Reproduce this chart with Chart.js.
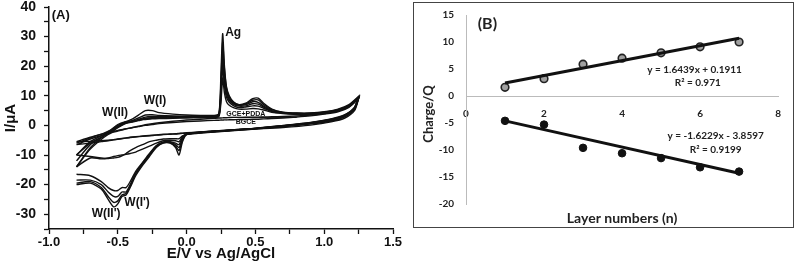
<!DOCTYPE html>
<html>
<head>
<meta charset="utf-8">
<script src="https://cdn.jsdelivr.net/npm/chart.js@4.4.1/dist/chart.umd.min.js"></script>
<style>
  body { margin: 0; background: #fff; }
  #wrap { position: relative; width: 796px; height: 270px; }
  #boxA { position: absolute; left: 0; top: 0; width: 412px; height: 270px; }
  #boxB { position: absolute; left: 413px; top: 2px; width: 379px; height: 224px; border: 1.5px solid #444; }
  canvas { display: block; }
</style>
</head>
<body>
<div id="wrap">
  <div id="boxA"><canvas id="chartA" width="412" height="270"></canvas></div>
  <div id="boxB"><canvas id="chartB" width="379" height="224"></canvas></div>
</div>
<script>
// ---- panel A : CVs, potential (V) on the forward and reverse sweep
const potFwd = [-0.8, -0.7, -0.6, -0.55, -0.5, -0.45, -0.4, -0.35, -0.3, -0.25, -0.2, -0.1, 0.0, 0.1, 0.2, 0.235, 0.25, 0.262, 0.275, 0.29, 0.31, 0.34, 0.38, 0.43, 0.48, 0.52, 0.56, 0.62, 0.7, 0.8, 0.9, 1.0, 1.1, 1.18, 1.25];
const potRev = [1.25, 1.22, 1.15, 1.05, 0.9, 0.7, 0.5, 0.3, 0.1, 0.0, -0.03, -0.055, -0.08, -0.12, -0.17, -0.22, -0.27, -0.32, -0.37, -0.41, -0.44, -0.47, -0.5, -0.53, -0.57, -0.62, -0.7, -0.8];

// currents (uA), one pair per layer
const fwd1 = [-6, -4.2, -2.6, -1.5, 0.3, 1.2, 1.5, 1.8, 2, 2.2, 2.3, 2.4, 2.5, 2.6, 2.7, 3, 8, 16, 11, 8, 6.8, 6, 5.5, 5.5, 5.7, 5.6, 5.2, 4.4, 4, 3.7, 3.7, 4.1, 4.9, 6.4, 9.2];
const rev1 = [9.2, 5.6, 3.1, 1.7, 0.6, -0.4, -1.2, -1.9, -2.6, -3.1, -3.5, -4.5, -4.5, -4.5, -4.6, -5, -5.5, -6.5, -7.5, -8.5, -9.5, -10.3, -10.8, -11, -11.2, -11, -10.5, -10];
const fwd2 = [-10, -6, -3.5, -2, -0.6, 0.6, 1.1, 1.6, 2.2, 2.4, 2.5, 2.6, 2.7, 2.8, 2.9, 3.3, 10, 20, 13.5, 9.5, 7.8, 6.7, 6, 6.2, 6.6, 6.5, 5.8, 4.6, 4.1, 3.8, 3.8, 4.2, 5, 6.5, 9.3];
const rev2 = [9.3, 5.7, 3.2, 1.8, 0.7, -0.3, -1.1, -1.8, -2.5, -3, -3.8, -5.5, -5.2, -5, -5.2, -6, -7, -8, -9, -9.5, -9.8, -10, -10.2, -10.5, -11, -11.3, -11, -14];
const fwd3 = [-10, -5.5, -3, -1.6, 0, 1, 1.2, 1.8, 2.4, 2.6, 2.7, 2.8, 2.9, 2.9, 3, 3.4, 11, 22, 15, 10.5, 8.5, 7.2, 6.5, 6.6, 7.3, 7.2, 6.2, 4.8, 4.2, 3.9, 3.9, 4.3, 5.1, 6.6, 9.4];
const rev3 = [9.4, 5.8, 3.3, 1.9, 0.8, -0.2, -1, -1.7, -2.4, -3, -4, -6.5, -6, -5.5, -5.6, -6.8, -9.5, -12.5, -15.5, -19, -21, -21, -22, -22, -21, -19, -17, -16.5];
const fwd4 = [-12, -6.5, -3.5, -2, -0.3, 0.8, 1.2, 2, 2.8, 3, 3, 3, 3, 3, 3.1, 3.6, 13, 25, 17, 11.5, 9, 7.5, 6.8, 7, 8, 7.8, 6.5, 5, 4.3, 4, 4, 4.4, 5.2, 6.7, 9.5];
const rev4 = [9.5, 5.9, 3.4, 2, 0.8, -0.2, -1, -1.7, -2.4, -3, -4.5, -7.5, -6.5, -5.7, -5.8, -7, -9.8, -12.8, -16, -20, -22.5, -22.5, -24, -24, -22.5, -20, -18.5, -18.5];
const fwd5 = [-14, -8, -4, -2.5, -0.8, 0.5, 1.5, 2.5, 3.5, 3.6, 3.4, 3.2, 3.1, 3.1, 3.2, 3.8, 15, 28, 19, 12.5, 9.5, 7.8, 7, 7.3, 8.5, 8.6, 7, 5.3, 4.4, 4.1, 4.1, 4.5, 5.3, 6.8, 9.6];
const rev5 = [9.6, 6, 3.5, 2.1, 0.9, -0.1, -1, -1.7, -2.4, -3, -5, -8.5, -7, -5.8, -5.8, -7.2, -10, -13, -16.5, -20.5, -23, -23.5, -25.5, -26, -24, -21, -19, -19.5];
const fwd6 = [-14, -7.5, -3.5, -2, -0.5, 1, 2, 3.5, 5, 5, 4.3, 3.8, 3.5, 3.4, 3.4, 4, 18, 31, 20, 13, 10, 8, 7, 7.5, 9, 9.2, 7.5, 5.5, 4.5, 4.2, 4.2, 4.6, 5.5, 7, 9.8];
const rev6 = [9.8, 6.1, 3.6, 2.2, 1, 0, -1, -1.6, -2.3, -3, -5.5, -10, -7.5, -6, -6, -7.5, -10.5, -13.5, -17, -21, -23.5, -24, -26.5, -27.5, -25, -21.5, -19.5, -20];
// bare GCE and GCE+PDDA
const pddaFwd = [-6.5, -4.6, -3.2, -2.5, -1.9, -1.3, -0.8, -0.3, 0.2, 0.6, 0.9, 1.4, 1.8, 2.1, 2.4, 2.5, 2.5, 2.55, 2.6, 2.6, 2.65, 2.7, 2.7, 2.75, 2.8, 2.8, 2.85, 2.9, 3.0, 3.2, 3.5, 4.0, 4.8, 6.3, 9.2];
const pddaRev = [9.2, 5.4, 2.9, 1.5, 0.5, -0.4, -1.0, -1.6, -2.2, -2.6, -2.7, -2.8, -2.9, -3.0, -3.1, -3.3, -3.5, -3.7, -3.9, -4.1, -4.3, -4.5, -4.7, -4.9, -5.2, -5.5, -6.0, -6.5];
const bareFwd = [-5.5, -4, -2.8, -2.2, -1.7, -1.2, -0.8, -0.4, 0, 0.3, 0.6, 1.0, 1.3, 1.5, 1.7, 1.75, 1.8, 1.8, 1.85, 1.85, 1.9, 1.9, 2.0, 2.0, 2.1, 2.1, 2.2, 2.3, 2.5, 2.8, 3.2, 3.8, 4.6, 6.1, 9.0];
const bareRev = [9.0, 5.0, 2.5, 1.2, 0.1, -0.7, -1.2, -1.7, -2.2, -2.5, -2.6, -2.7, -2.8, -2.9, -3.0, -3.2, -3.4, -3.6, -3.8, -4.0, -4.2, -4.4, -4.6, -4.8, -5.0, -5.2, -5.4, -5.5];

// ---- panel B : charge vs layer number
const layers = [1, 2, 3, 4, 5, 6, 7];
const chargeOx = [1.6, 3.2, 5.9, 7.0, 8.0, 9.1, 10.0];
const chargeRed = [-4.6, -5.3, -9.6, -10.6, -11.5, -13.2, -14.0];
// trend lines as drawn (ends)
const fitX = [1, 7];
const fitOx = [2.4, 10.7];
const fitRed = [-4.6, -14.3];

const cycles = [[fwd1, rev1], [fwd2, rev2], [fwd3, rev3], [fwd4, rev4], [fwd5, rev5], [fwd6, rev6], [pddaFwd, pddaRev], [bareFwd, bareRev]];

function loop(f, r) {
  return potFwd.map((e, i) => ({x: e, y: f[i]}))
    .concat(potRev.map((e, i) => ({x: e, y: r[i]})));
}

// text labels on panel A (data coords)
const notesA = [
  {t: '(A)', x: -0.98, y: 37.2, size: 13, al: 'left'},
  {t: 'Ag', x: 0.28, y: 31.4, size: 12, al: 'left'},
  {t: 'W(I)', x: -0.23, y: 8.4, size: 12, al: 'center'},
  {t: 'W(II)', x: -0.52, y: 4.2, size: 12, al: 'center'},
  {t: "W(I')", x: -0.36, y: -26, size: 12, al: 'center'},
  {t: "W(II')", x: -0.585, y: -29.7, size: 12, al: 'center'},
  {t: 'GCE+PDDA', x: 0.43, y: 3.9, size: 7, al: 'center'},
  {t: 'BGCE', x: 0.43, y: 1.1, size: 7, al: 'center'}
];

const fontA = 'Liberation Sans, Arial, sans-serif';
const fontB = 'Lato, Calibri, sans-serif';

const notesPluginA = {
  id: 'notesA',
  afterDraw(chart) {
    const ctx = chart.ctx, sx = chart.scales.x, sy = chart.scales.y, a = chart.chartArea;
    ctx.save();
    ctx.fillStyle = '#111';
    ctx.textBaseline = 'middle';
    notesA.forEach(n => {
      ctx.font = 'bold ' + n.size + 'px ' + fontA;
      ctx.textAlign = n.al;
      ctx.fillText(n.t, sx.getPixelForValue(n.x), sy.getPixelForValue(n.y));
    });
    // underline under GCE+PDDA
    ctx.strokeStyle = '#111';
    ctx.lineWidth = 1;
    ctx.beginPath();
    ctx.moveTo(sx.getPixelForValue(0.3), sy.getPixelForValue(2.7));
    ctx.lineTo(sx.getPixelForValue(0.8), sy.getPixelForValue(2.7));
    ctx.stroke();
    // axis titles
    ctx.font = 'bold 15px ' + fontA;
    ctx.textAlign = 'center';
    ctx.fillText('E/V vs Ag/AgCl', (a.left + a.right) / 2, 254);
    ctx.translate(11, (a.top + a.bottom) / 2);
    ctx.rotate(-Math.PI / 2);
    ctx.fillText('I/\u03BCA', 0, 0);
    ctx.restore();
  }
};

new Chart(document.getElementById('chartA'), {
  type: 'scatter',
  data: {
    datasets: cycles.map(c => ({
      data: loop(c[0], c[1]),
      showLine: true,
      borderColor: '#111',
      borderWidth: 1.4,
      pointRadius: 0,
      tension: 0.25
    }))
  },
  options: {
    responsive: false,
    animation: false,
    layout: {padding: {top: 7, right: 19, left: 0, bottom: 0}},
    plugins: {legend: {display: false}, tooltip: {enabled: false}},
    scales: {
      x: {
        type: 'linear', min: -1, max: 1.5,
        afterBuildTicks: s => { s.ticks = []; for (let v = -1; v <= 1.5001; v += 0.25) s.ticks.push({value: Math.round(v * 100) / 100}); },
        afterFit: s => { s.height = 41; },
        ticks: {
          color: '#111', padding: 1, maxRotation: 0, autoSkip: false,
          font: {family: fontA, size: 13, weight: 'bold'},
          callback: v => (Math.abs(v * 2 - Math.round(v * 2)) < 1e-6) ? v.toFixed(1) : ''
        },
        grid: {display: true, drawOnChartArea: false, tickLength: 5, tickColor: '#111', tickWidth: 1.3},
        border: {color: '#111', width: 1.5}
      },
      y: {
        min: -35, max: 40,
        afterBuildTicks: s => { s.ticks = []; for (let v = -35; v <= 40; v += 5) s.ticks.push({value: v}); },
        afterFit: s => { s.width = 49; s.paddingTop = 0; s.paddingBottom = 0; },
        ticks: {
          color: '#111', padding: 8, autoSkip: false,
          font: {family: fontA, size: 14, weight: 'bold'},
          callback: v => (v % 10 === 0) ? String(v) : ''
        },
        grid: {display: true, drawOnChartArea: false, tickLength: 5, tickColor: '#111', tickWidth: 1.3},
        border: {color: '#111', width: 1.5}
      }
    }
  },
  plugins: [notesPluginA]
});

// ---- panel B
const notesB = [
  {t: '(B)', x: 0.3, y: 13.3, size: 16, al: 'left'},
  {t: 'y = 1.6439x + 0.1911', x: 5.86, y: 4.8, size: 10, al: 'center'},
  {t: 'R\u00B2 = 0.971', x: 5.94, y: 2.5, size: 10, al: 'center'},
  {t: 'y = -1.6229x - 3.8597', x: 6.4, y: -7.4, size: 10, al: 'center'},
  {t: 'R\u00B2 = 0.9199', x: 6.4, y: -10, size: 10, al: 'center'}
];

const notesPluginB = {
  id: 'notesB',
  afterDraw(chart) {
    const ctx = chart.ctx, sx = chart.scales.x, sy = chart.scales.y, a = chart.chartArea;
    ctx.save();
    ctx.fillStyle = '#222';
    ctx.textBaseline = 'middle';
    notesB.forEach(n => {
      ctx.font = 'bold ' + n.size + 'px ' + fontB;
      ctx.textAlign = n.al;
      ctx.fillText(n.t, sx.getPixelForValue(n.x), sy.getPixelForValue(n.y));
    });
    ctx.font = 'bold 14px ' + fontB;
    ctx.textAlign = 'center';
    ctx.fillText('Layer numbers (n)', (a.left + a.right) / 2, 215);
    ctx.font = 'bold 13px ' + fontB;
    ctx.translate(15, 111);
    ctx.rotate(-Math.PI / 2);
    ctx.fillText('Charge/Q', 0, 0);
    ctx.restore();
  }
};

new Chart(document.getElementById('chartB'), {
  type: 'scatter',
  data: {
    datasets: [
      {data: fitX.map((x, i) => ({x: x, y: fitOx[i]})), showLine: true, borderColor: '#111', borderWidth: 3, pointRadius: 0},
      {data: fitX.map((x, i) => ({x: x, y: fitRed[i]})), showLine: true, borderColor: '#111', borderWidth: 3, pointRadius: 0},
      {data: layers.map((x, i) => ({x: x, y: chargeOx[i]})), pointRadius: 3.8, backgroundColor: '#a0a0a0', borderColor: '#222', borderWidth: 1.6},
      {data: layers.map((x, i) => ({x: x, y: chargeRed[i]})), pointRadius: 3.8, backgroundColor: '#111', borderColor: '#111', borderWidth: 1}
    ]
  },
  options: {
    responsive: false,
    animation: false,
    layout: {padding: {top: 12, right: 14, left: 0, bottom: 23}},
    plugins: {legend: {display: false}, tooltip: {enabled: false}},
    scales: {
      x: {
        type: 'linear', min: 0, max: 8, position: {y: 0},
        ticks: {stepSize: 2, color: '#222', padding: 12, font: {family: fontB, size: 10, weight: 'bold'}},
        grid: {display: false, drawTicks: false},
        border: {color: '#bbb', width: 1}
      },
      y: {
        min: -20, max: 15,
        afterFit: s => { s.width = 52; s.paddingTop = 0; s.paddingBottom = 0; },
        ticks: {stepSize: 5, color: '#222', padding: 12, font: {family: fontB, size: 10, weight: 'bold'}},
        grid: {display: false, drawTicks: false},
        border: {color: '#bbb', width: 1}
      }
    }
  },
  plugins: [notesPluginB]
});
</script>
</body>
</html>
